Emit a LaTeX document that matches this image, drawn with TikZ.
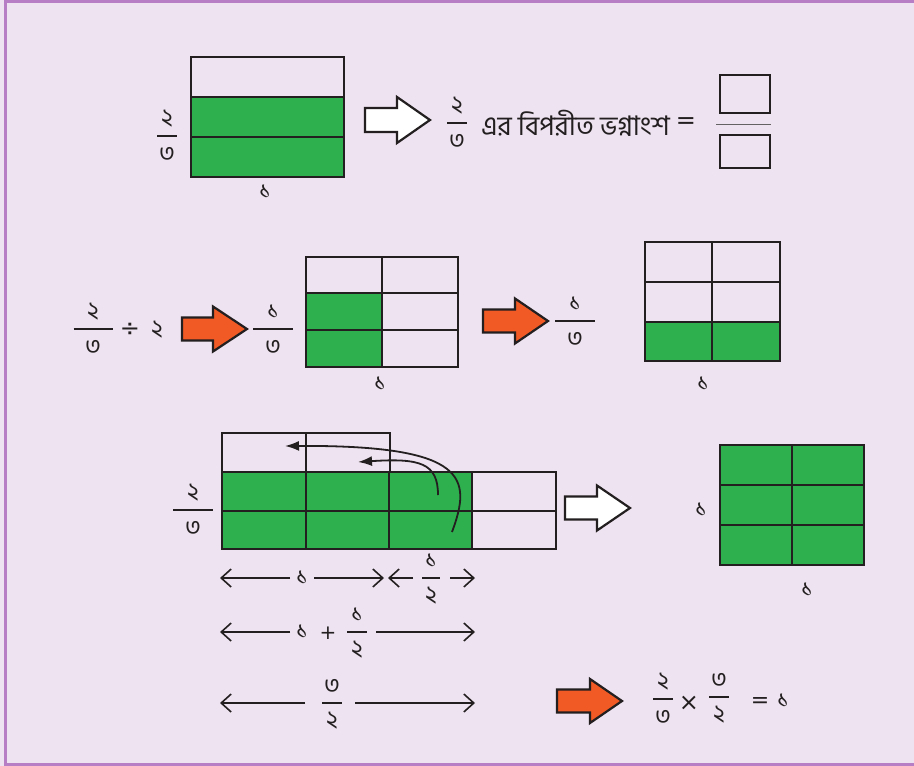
\documentclass[tikz,border=0pt]{standalone}
\usepackage{fontspec}
\newfontfamily\bn[Script=Bengali]{Hind Siliguri}
\newfontfamily\sy{DejaVu Sans}
\usetikzlibrary{arrows.meta}
\definecolor{bg}{HTML}{EEE3F0}
\definecolor{frm}{HTML}{B87EC5}
\definecolor{grn}{HTML}{2EB04E}
\definecolor{org}{HTML}{F15A24}
\definecolor{ink}{HTML}{231F20}
\tikzset{
  dig/.style={font=\bn\fontsize{24}{28}\selectfont, inner sep=0pt, text=ink},
  sym/.style={font=\sy\fontsize{20}{24}\selectfont, inner sep=0pt, text=ink},
  fracbar/.style={draw=ink, line width=1.3pt},
  cellline/.style={draw=ink, line width=2.6pt},
  gcell/.style={cellline, fill=grn},
  ecell/.style={cellline},
  blockarr/.style={draw=ink, line width=2.2pt, line join=miter},
  dimline/.style={draw=ink, line width=1.6pt, arrows={-Straight Barb[length=10pt,width=18pt]}},
  curvarr/.style={draw=ink, line width=1.8pt, arrows={-Latex[length=14pt,width=10pt]}},
}
% name, x, bar y, half width, numerator, denominator
\newcommand\bfr[6]{%
  \draw[fracbar] (#2-#4,#3) -- (#2+#4,#3);
  \node[dig] (#1n) at (#2,#3-17) {#5};
  \node[dig] (#1d) at (#2,#3+18) {#6};}
% name, tail x, y, head x, tip x, shaft half, head half, fill
\newcommand\barrow[8]{%
  \draw[blockarr, fill=#8] (#2,#3-#6) -- (#4,#3-#6) -- (#4,#3-#7) -- (#5,#3)
     -- (#4,#3+#7) -- (#4,#3+#6) -- (#2,#3+#6) -- cycle;
  \coordinate (#1) at (#5,#3);}
\begin{document}
\begin{tikzpicture}[x=1pt,y=-1pt]
\useasboundingbox (0,0) rectangle (914,766);
\fill[bg] (0,0) rectangle (914,766);
\draw[frm, line width=3.5pt] (5.5,1.2) rectangle (918,764.8);

% ---------- top ----------
\draw[ecell] (191,57) rectangle (344,97);
\draw[gcell] (191,97) rectangle (344,137);
\draw[gcell] (191,137) rectangle (344,177);
\bfr{fa}{167}{136}{10}{২}{৩}
\node[dig] (oneA) at (265,192) {১};
\barrow{wa}{365}{120}{397}{430}{12}{23}{white}
\bfr{fb}{457}{123}{10}{২}{৩}
\node[dig, anchor=west, font=\bn\fontsize{27}{30}\selectfont] (txt) at (481,123) {এর বিপরীত ভগ্নাংশ};
\node[sym, font=\sy\fontsize{24}{28}\selectfont] (eq1) at (686,123) {=};
\draw[ecell, line width=2.2pt] (720,75) rectangle (770,113);
\draw[draw=ink!70, line width=1pt] (716,124) -- (771,124);
\draw[ecell, line width=2.2pt] (720,135) rectangle (770,168);

% ---------- middle ----------
\bfr{fc}{93}{329}{19.5}{২}{৩}
\node[sym, font=\sy\fontsize{24}{28}\selectfont] (dv) at (130,330) {÷};
\node[dig] (two) at (157,330) {২};
\barrow{oa}{182}{329}{213}{247}{11.5}{22.5}{org}
\bfr{fd}{273}{329}{20}{১}{৩}
\draw[gcell] (306,293) rectangle (382,330);
\draw[gcell] (306,330) rectangle (382,367);
\draw[ecell] (306,257) rectangle (382,293);
\draw[ecell] (382,257) rectangle (458,293);
\draw[ecell] (382,293) rectangle (458,330);
\draw[ecell] (382,330) rectangle (458,367);
\node[dig] (oneB) at (380,384) {১};
\barrow{ob}{483}{321}{515}{548}{11.5}{22.5}{org}
\bfr{fe}{575}{321}{20}{১}{৩}
\draw[ecell] (645,242) rectangle (712,282);
\draw[ecell] (712,242) rectangle (780,282);
\draw[ecell] (645,282) rectangle (712,322);
\draw[ecell] (712,282) rectangle (780,322);
\draw[gcell] (645,322) rectangle (712,361);
\draw[gcell] (712,322) rectangle (780,361);
\node[dig] (oneC) at (703,384) {১};

% ---------- bottom ----------
\draw[ecell] (222,433) rectangle (306,472);
\draw[ecell] (306,433) rectangle (390,472);
\foreach \xa/\xb in {222/306,306/389,389/472}{
  \draw[gcell] (\xa,472) rectangle (\xb,511);
  \draw[gcell] (\xa,511) rectangle (\xb,549);
}
\draw[ecell] (472,472) rectangle (556,511);
\draw[ecell] (472,511) rectangle (556,549);
\bfr{ff}{193}{510}{20}{২}{৩}
\coordinate (c1s) at (452,532);
\coordinate (c1e) at (285,446);
\coordinate (c2s) at (438,495);
\coordinate (c2e) at (358,462);
\draw[curvarr] (c1s) .. controls (472,478) and (468,445) .. (c1e);
\draw[curvarr] (c2s) .. controls (438,463) and (420,458) .. (c2e);
\barrow{wb}{565}{508}{597}{630}{11.5}{22.5}{white}
\node[dig] (oneL) at (701,510) {১};
\foreach \xa/\xb in {720/792,792/864}{
  \draw[gcell] (\xa,445) rectangle (\xb,485);
  \draw[gcell] (\xa,485) rectangle (\xb,525);
  \draw[gcell] (\xa,525) rectangle (\xb,565);
}
\node[dig] (oneE) at (807,590) {১};

% dimension lines
\coordinate (d1a) at (220,578); \coordinate (d1b) at (290,578);
\node[dig] (d1t) at (302,578) {১};
\coordinate (d1c) at (314,578); \coordinate (d1d) at (384,578);
\draw[dimline] (d1b) -- (d1a);
\draw[dimline] (d1c) -- (d1d);
\coordinate (d2a) at (388,578); \coordinate (d2b) at (413,578);
\bfr{fg}{431}{578}{9}{১}{২}
\coordinate (d2c) at (450,578); \coordinate (d2d) at (475,578);
\draw[dimline] (d2b) -- (d2a);
\draw[dimline] (d2c) -- (d2d);

\coordinate (d3a) at (220,632); \coordinate (d3b) at (290,632);
\node[dig] (d3t) at (302,632) {১};
\node[sym] (pl) at (328,633) {+};
\bfr{fh}{357}{632}{10}{১}{২}
\coordinate (d3c) at (376,632); \coordinate (d3d) at (475,632);
\draw[dimline] (d3b) -- (d3a);
\draw[dimline] (d3c) -- (d3d);

\coordinate (d4a) at (220,703); \coordinate (d4b) at (305,703);
\bfr{fi}{332}{703}{10}{৩}{২}
\coordinate (d4c) at (355,703); \coordinate (d4d) at (475,703);
\draw[dimline] (d4b) -- (d4a);
\draw[dimline] (d4c) -- (d4d);

\barrow{oc}{557}{701}{590}{622}{11.5}{22}{org}
\bfr{fj}{663}{699}{10}{২}{৩}
\node[sym, font=\sy\fontsize{24}{28}\selectfont] (tm) at (689,703) {×};
\bfr{fk}{719}{697}{10}{৩}{২}
\node[sym, font=\sy\fontsize{22}{26}\selectfont] (eq2) at (760,702) {=};
\node[dig] (oneF) at (783,701) {১};
\end{tikzpicture}
\end{document}
